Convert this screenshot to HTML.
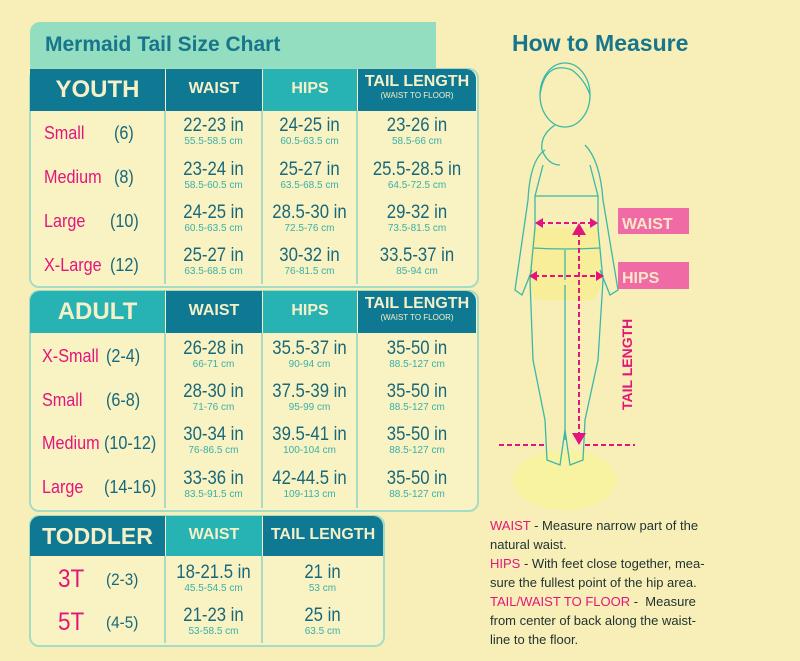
<!DOCTYPE html>
<html><head><style>
body{margin:0;width:800px;height:661px;background:#f7efb7;font-family:"Liberation Sans",sans-serif;position:relative;overflow:hidden}
.a{position:absolute}
.tb{position:absolute;border:2px solid #a6dcc6;border-radius:10px;background:#f9f2c2;overflow:hidden}
.h{position:absolute;background:#0f7893;color:#f5f0c8;font-weight:bold;text-align:center}
.hl{background:#27b3b4}
.vl{position:absolute;width:2px;background:#a6dcc6}
.c{position:absolute;text-align:center;color:#17687c}
.c b{display:block;font-weight:normal;font-size:19px;line-height:20px;transform:scaleX(.88)}
.c i{display:block;font-style:normal;font-size:10px;color:#3ab0a8;line-height:11px}
.lb{position:absolute;color:#e3157d;font-size:18px;transform-origin:left;transform:scaleX(.9)}
.sz{position:absolute;color:#17687c;font-size:18px;transform-origin:left;transform:scaleX(.9)}
.n{position:absolute;left:490px;font-size:13px;color:#233;line-height:19px}
.n span{color:#e3157d}
</style></head><body>
<div class="a" style="left:30px;top:22px;width:406px;height:52px;background:#93ddc0;border-radius:10px 0 0 0"></div>
<div class="a" style="left:45px;top:33px;font-size:21px;font-weight:bold;color:#17758c">Mermaid Tail Size Chart</div>

<!-- YOUTH -->
<div class="tb" style="left:29px;top:68px;width:446px;height:216px"></div>
<div class="h" style="left:30px;top:69px;width:135px;height:42px;line-height:42px;font-size:24px">YOUTH</div>
<div class="h" style="left:166px;top:69px;width:96px;height:42px;line-height:40px;font-size:16px">WAIST</div>
<div class="h hl" style="left:263px;top:69px;width:94px;height:42px;line-height:40px;font-size:16px">HIPS</div>
<div class="h" style="left:358px;top:69px;width:118px;height:42px;font-size:16px;line-height:18px;padding-top:4px;box-sizing:border-box;border-radius:0 10px 0 0">TAIL LENGTH<div style="font-size:8px;font-weight:normal;line-height:10px">(WAIST TO FLOOR)</div></div>
<div class="vl" style="left:164px;top:111px;height:173px"></div><div class="vl" style="left:261px;top:111px;height:173px"></div><div class="vl" style="left:356px;top:111px;height:173px"></div>

<!-- ADULT -->
<div class="tb" style="left:29px;top:290px;width:446px;height:218px"></div>
<div class="h hl" style="left:30px;top:291px;width:135px;height:42px;line-height:42px;font-size:24px;border-radius:10px 0 0 0">ADULT</div>
<div class="h" style="left:166px;top:291px;width:96px;height:42px;line-height:40px;font-size:16px">WAIST</div>
<div class="h hl" style="left:263px;top:291px;width:94px;height:42px;line-height:40px;font-size:16px">HIPS</div>
<div class="h" style="left:358px;top:291px;width:118px;height:42px;font-size:16px;line-height:18px;padding-top:4px;box-sizing:border-box;border-radius:0 10px 0 0">TAIL LENGTH<div style="font-size:8px;font-weight:normal;line-height:10px">(WAIST TO FLOOR)</div></div>
<div class="vl" style="left:164px;top:333px;height:175px"></div><div class="vl" style="left:261px;top:333px;height:175px"></div><div class="vl" style="left:356px;top:333px;height:175px"></div>

<!-- TODDLER -->
<div class="tb" style="left:29px;top:515px;width:352px;height:128px"></div>
<div class="h" style="left:30px;top:516px;width:135px;height:40px;line-height:40px;font-size:23px;border-radius:10px 0 0 0">TODDLER</div>
<div class="h hl" style="left:166px;top:516px;width:96px;height:40px;line-height:38px;font-size:16px">WAIST</div>
<div class="h" style="left:263px;top:516px;width:120px;height:40px;line-height:38px;font-size:16px;border-radius:0 10px 0 0">TAIL LENGTH</div>
<div class="vl" style="left:164px;top:556px;height:87px"></div><div class="vl" style="left:261px;top:556px;height:87px"></div>

<!-- youth rows -->
<div class="lb" style="left:44px;top:123px">Small</div><div class="sz" style="left:114px;top:123px">(6)</div>
<div class="lb" style="left:44px;top:167px">Medium</div><div class="sz" style="left:114px;top:167px">(8)</div>
<div class="lb" style="left:44px;top:211px">Large</div><div class="sz" style="left:110px;top:211px">(10)</div>
<div class="lb" style="left:44px;top:255px">X-Large</div><div class="sz" style="left:110px;top:255px">(12)</div>
<div class="c" style="left:165px;width:97px;top:116px"><b>22-23 in</b><i>55.5-58.5 cm</i></div>
<div class="c" style="left:262px;width:95px;top:116px"><b>24-25 in</b><i>60.5-63.5 cm</i></div>
<div class="c" style="left:357px;width:120px;top:116px"><b>23-26 in</b><i>58.5-66 cm</i></div>
<div class="c" style="left:165px;width:97px;top:160px"><b>23-24 in</b><i>58.5-60.5 cm</i></div>
<div class="c" style="left:262px;width:95px;top:160px"><b>25-27 in</b><i>63.5-68.5 cm</i></div>
<div class="c" style="left:357px;width:120px;top:160px"><b>25.5-28.5 in</b><i>64.5-72.5 cm</i></div>
<div class="c" style="left:165px;width:97px;top:203px"><b>24-25 in</b><i>60.5-63.5 cm</i></div>
<div class="c" style="left:262px;width:95px;top:203px"><b>28.5-30 in</b><i>72.5-76 cm</i></div>
<div class="c" style="left:357px;width:120px;top:203px"><b>29-32 in</b><i>73.5-81.5 cm</i></div>
<div class="c" style="left:165px;width:97px;top:246px"><b>25-27 in</b><i>63.5-68.5 cm</i></div>
<div class="c" style="left:262px;width:95px;top:246px"><b>30-32 in</b><i>76-81.5 cm</i></div>
<div class="c" style="left:357px;width:120px;top:246px"><b>33.5-37 in</b><i>85-94 cm</i></div>

<!-- adult rows -->
<div class="lb" style="left:42px;top:346px">X-Small</div><div class="sz" style="left:106px;top:346px">(2-4)</div>
<div class="lb" style="left:42px;top:390px">Small</div><div class="sz" style="left:106px;top:390px">(6-8)</div>
<div class="lb" style="left:42px;top:433px">Medium</div><div class="sz" style="left:104px;top:433px">(10-12)</div>
<div class="lb" style="left:42px;top:477px">Large</div><div class="sz" style="left:104px;top:477px">(14-16)</div>
<div class="c" style="left:165px;width:97px;top:339px"><b>26-28 in</b><i>66-71 cm</i></div>
<div class="c" style="left:262px;width:95px;top:339px"><b>35.5-37 in</b><i>90-94 cm</i></div>
<div class="c" style="left:357px;width:120px;top:339px"><b>35-50 in</b><i>88.5-127 cm</i></div>
<div class="c" style="left:165px;width:97px;top:382px"><b>28-30 in</b><i>71-76 cm</i></div>
<div class="c" style="left:262px;width:95px;top:382px"><b>37.5-39 in</b><i>95-99 cm</i></div>
<div class="c" style="left:357px;width:120px;top:382px"><b>35-50 in</b><i>88.5-127 cm</i></div>
<div class="c" style="left:165px;width:97px;top:425px"><b>30-34 in</b><i>76-86.5 cm</i></div>
<div class="c" style="left:262px;width:95px;top:425px"><b>39.5-41 in</b><i>100-104 cm</i></div>
<div class="c" style="left:357px;width:120px;top:425px"><b>35-50 in</b><i>88.5-127 cm</i></div>
<div class="c" style="left:165px;width:97px;top:469px"><b>33-36 in</b><i>83.5-91.5 cm</i></div>
<div class="c" style="left:262px;width:95px;top:469px"><b>42-44.5 in</b><i>109-113 cm</i></div>
<div class="c" style="left:357px;width:120px;top:469px"><b>35-50 in</b><i>88.5-127 cm</i></div>

<!-- toddler rows -->
<div class="lb" style="left:58px;top:565px;font-size:25px">3T</div><div class="sz" style="left:106px;top:570px;font-size:17px">(2-3)</div>
<div class="lb" style="left:58px;top:608px;font-size:25px">5T</div><div class="sz" style="left:106px;top:613px;font-size:17px">(4-5)</div>
<div class="c" style="left:165px;width:97px;top:563px"><b>18-21.5 in</b><i>45.5-54.5 cm</i></div>
<div class="c" style="left:262px;width:121px;top:563px"><b>21 in</b><i>53 cm</i></div>
<div class="c" style="left:165px;width:97px;top:606px"><b>21-23 in</b><i>53-58.5 cm</i></div>
<div class="c" style="left:262px;width:121px;top:606px"><b>25 in</b><i>63.5 cm</i></div>

<!-- right -->
<div class="a" style="left:512px;top:30px;font-size:23px;font-weight:bold;color:#17758c">How to Measure</div>
<svg class="a" style="left:0;top:0" width="800" height="661">
<ellipse cx="565" cy="480" rx="52" ry="30" fill="#f8f3a0"/>
<path d="M533 228 L598 228 L604 280 L594 300 L535 300 L528 280Z" fill="#f8ee9a"/>
<g fill="none" stroke="#3cb8a8" stroke-width="1.3">
<ellipse cx="565" cy="95" rx="25" ry="32"/>
<path d="M540 95 Q545 60 572 70 Q585 80 590 95"/>
<path d="M555 125 Q540 135 542 150 Q548 165 560 165"/>
<path d="M545 150 Q530 160 528 200 L515 290 L522 295 L532 270"/>
<path d="M585 145 Q600 160 603 200 L618 290 L610 295 L600 270"/>
<path d="M543 165 L535 196 L598 196 L590 165"/>
<path d="M535 196 L535 228 L530 280 L533 360 L545 420 L547 460 L560 465 L565 430 L570 465 L583 460 L585 420 L598 360 L603 280 L598 228 L598 196"/>
<path d="M533 248 Q565 250 600 248 M565 250 L565 280 M565 285 L565 440"/>
</g>
<g stroke="#e3157d" stroke-width="2" stroke-dasharray="5,3" fill="none">
<line x1="540" y1="223" x2="593" y2="223"/><line x1="534" y1="276" x2="599" y2="276"/>
<line x1="579" y1="232" x2="579" y2="435"/>
<line x1="499" y1="445" x2="547" y2="445"/><line x1="585" y1="445" x2="635" y2="445"/>
</g>
<g fill="#e3157d">
<path d="M535 223 l8 -5 v10z"/><path d="M598 223 l-8 -5 v10z"/>
<path d="M529 276 l8 -5 v10z"/><path d="M604 276 l-8 -5 v10z"/>
<path d="M579 223 l-7 12 h14z"/><path d="M579 445 l-7 -12 h14z"/>
<rect x="618" y="208" width="71" height="26" fill="#f06aa5"/>
<rect x="618" y="262" width="71" height="27" fill="#f06aa5"/>
</g>
<text x="622" y="229" font-family="Liberation Sans" font-weight="bold" font-size="16" fill="#fbe7c8">WAIST</text>
<text x="622" y="283" font-family="Liberation Sans" font-weight="bold" font-size="16" fill="#fbe7c8">HIPS</text>
<text transform="translate(632,410) rotate(-90)" font-family="Liberation Sans" font-weight="bold" font-size="14" fill="#e3157d">TAIL LENGTH</text>
</svg>
<div class="n" style="top:516px"><span>WAIST</span> - Measure narrow part of the<br>natural waist.<br><span>HIPS</span> - With feet close together, mea-<br>sure the fullest point of the hip area.<br><span>TAIL/WAIST TO FLOOR</span> -&nbsp; Measure<br>from center of back along the waist-<br>line to the floor.</div>
</body></html>
